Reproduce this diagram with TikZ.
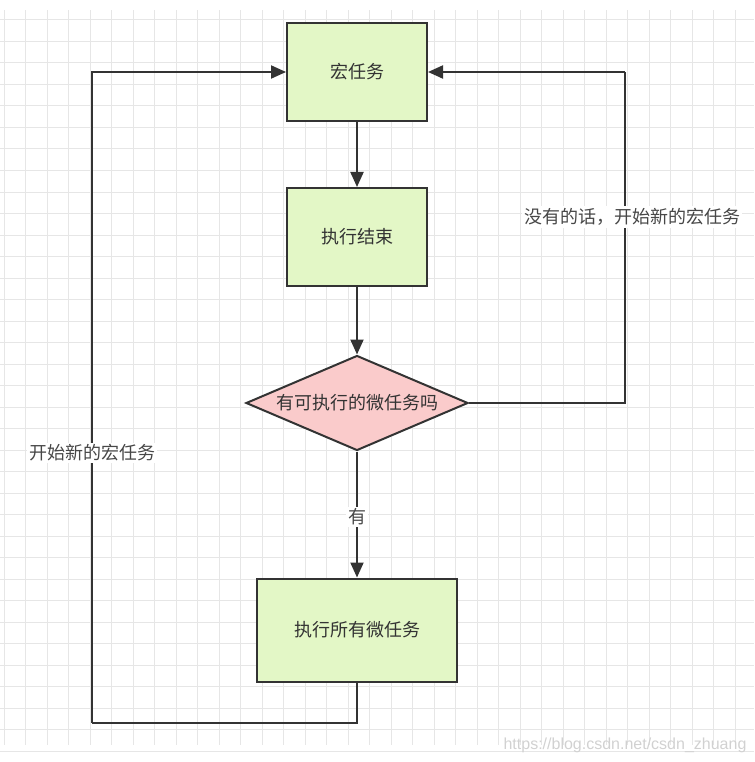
\documentclass[tikz,border=0pt]{standalone}
\usepackage{fontspec}
\setmainfont{Noto Sans CJK SC}
\newfontfamily\markfont{Liberation Sans}
\usetikzlibrary{shapes.geometric,arrows.meta}
\definecolor{boxgreen}{HTML}{E3F7C6}
\definecolor{boxpink}{HTML}{FACBCB}
\definecolor{linegray}{HTML}{333333}
\definecolor{gridgray}{HTML}{E6E6E6}
\begin{document}
\begin{tikzpicture}[
    x=1pt, y=-1pt,
    font=\fontsize{18}{21}\selectfont,
    box/.style={draw=linegray, line width=2pt, fill=boxgreen, text=linegray, minimum width=140pt, minimum height=98pt},
    check/.style={draw=linegray, line width=2pt, fill=boxpink, text=linegray, diamond, shape aspect=2.34, inner sep=0pt, minimum width=222pt, minimum height=95pt},
    flow/.style={draw=linegray, line width=2pt, -{Triangle[length=15pt,width=13pt]}},
    loop/.style={draw=linegray, line width=2pt},
    lbl/.style={fill=white, text=linegray!90, inner sep=2pt}
]
    \useasboundingbox (0,0) rectangle (754,762);
    % Grid in the background
    \foreach \gx in {0,...,34}
        \draw[gridgray, line width=1pt] (4+21.5*\gx,10) -- (4+21.5*\gx,745);
    \foreach \gy in {0,...,34}
        \draw[gridgray, line width=1pt] (0,20+21.5*\gy) -- (754,20+21.5*\gy);

    % Steps
    \node[box] (macro) at (357,72) {宏任务};
    \node[box] (done) at (357,237) {执行结束};
    \node[check] (check) at (357,403) {有可执行的微任务吗};
    \node[box, minimum width=200pt, minimum height=103pt] (micro) at (357,630) {执行所有微任务};

    % Corners of the two loops
    \coordinate (lb) at (92,723);
    \coordinate (rt) at (625,72);

    % Main flow
    \draw[flow] (macro) -- (done);
    \draw[flow] (done) -- (check);
    \draw[flow] (check) -- (micro);
    \node[lbl] (yes) at (357,517) {有};

    % Loops back to the macro task
    \draw[loop] (micro.south) |- (lb);
    \draw[flow] (lb) |- (macro.west);
    \draw[loop] (check.east) -| (rt);
    \draw[flow] (rt) -- (macro.east);
    \node[lbl] (restart) at (92,453) {开始新的宏任务};
    \node[lbl] (nomore) at (632,217) {没有的话，开始新的宏任务};

    % Watermark
    \node[text=black!18, font=\fontsize{16}{18}\markfont] (mark) at (625,745) {https://blog.csdn.net/csdn\_zhuang};
\end{tikzpicture}
\end{document}
